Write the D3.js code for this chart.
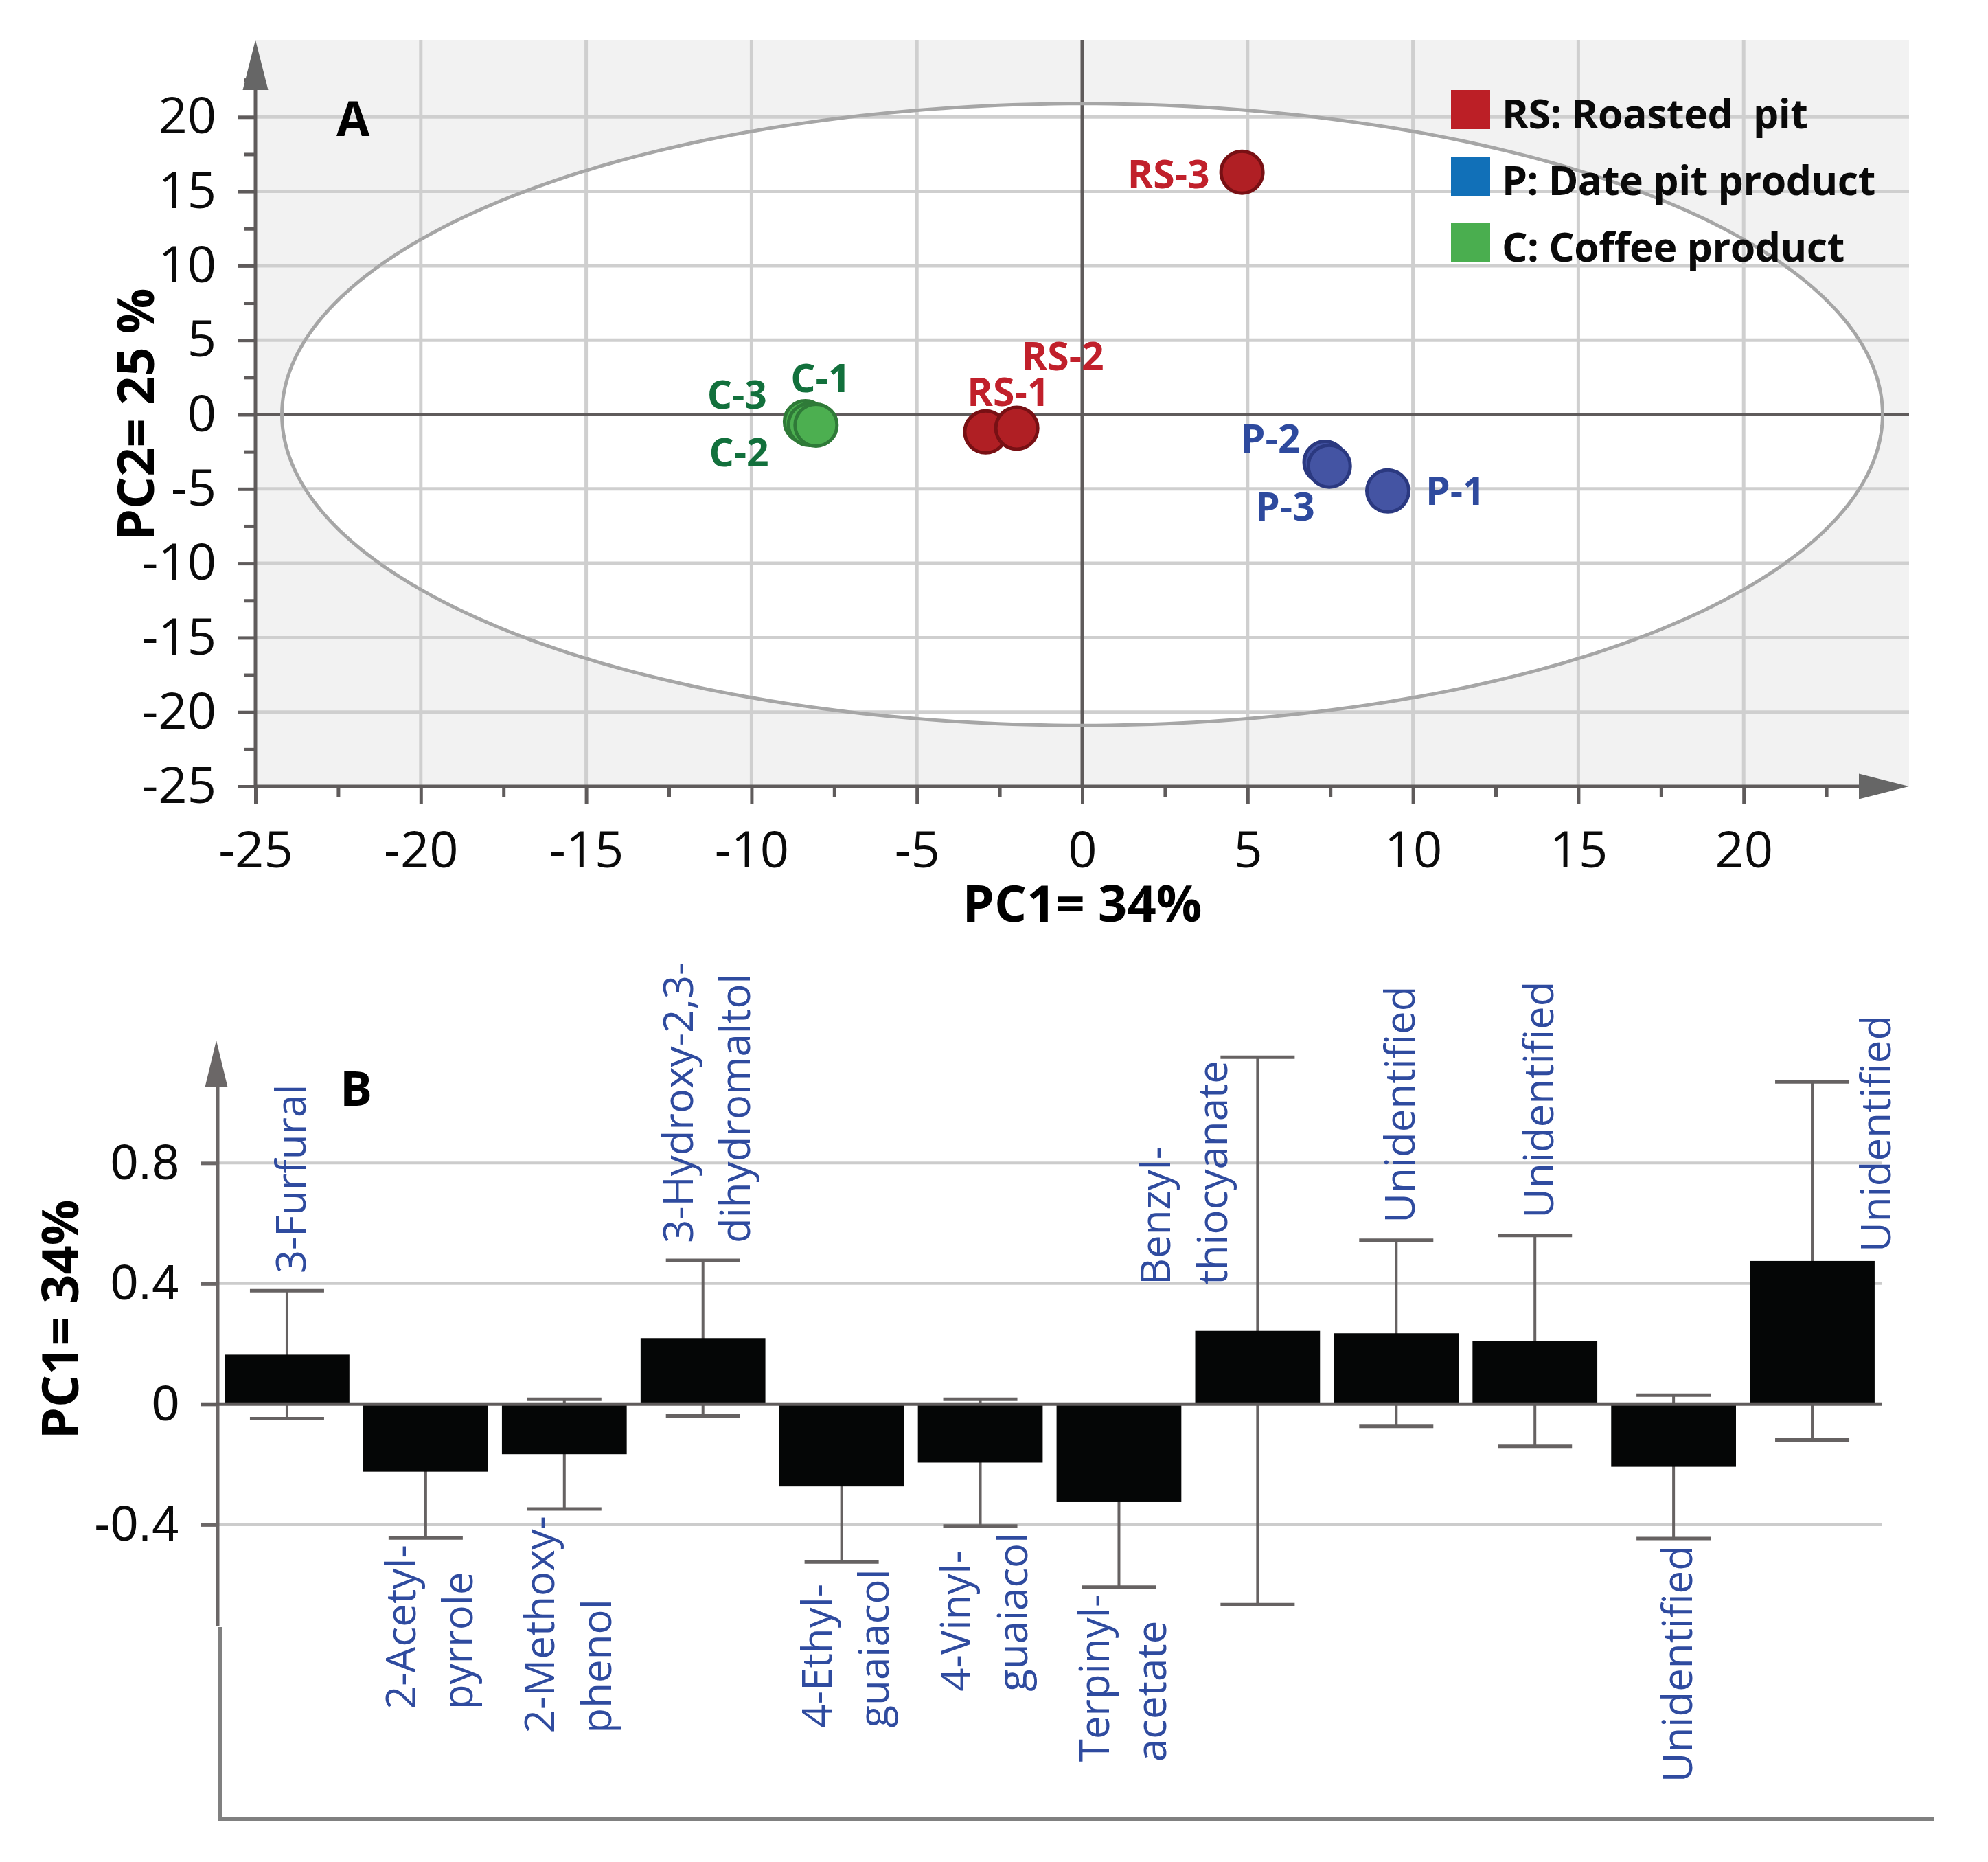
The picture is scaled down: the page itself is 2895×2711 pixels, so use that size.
<!DOCTYPE html>
<html>
<head>
<meta charset="utf-8">
<script src="https://cdn.jsdelivr.net/npm/d3@7"></script>
<style>
  body { margin: 0; background: #fff; }
  svg { display: block; }
  text { font-family: "Open Sans", "Noto Sans", sans-serif; }
</style>
</head>
<body>
<svg id="chart" width="2895" height="2711" viewBox="0 0 2895 2711"></svg>
<script>
// ---- panel A: PCA score plot ----
const sampleNames = ["C-3", "C-2", "C-1", "RS-1", "RS-2", "RS-3", "P-2", "P-3", "P-1"];
const sampleGroups = ["C", "C", "C", "RS", "RS", "RS", "P", "P", "P"];
const pc1Scores = [-8.37, -8.25, -8.05, -2.92, -1.98, 4.83, 7.34, 7.47, 9.24];
const pc2Scores = [-0.48, -0.67, -0.71, -1.17, -0.92, 16.29, -3.21, -3.47, -5.14];
const ellipseRadii = [24.2, 20.9]; // Hotelling T2 ellipse, PC units

const legendGroups = ["RS", "P", "C"];
const legendLabels = ["RS: Roasted  pit", "P: Date pit product", "C: Coffee product"];

const scoreTicks = [-25, -20, -15, -10, -5, 0, 5, 10, 15, 20];

// ---- panel B: PC1 loadings ----
const compoundLabels = [
  "3-Furfural", "2-Acetyl-|pyrrole", "2-Methoxy-|phenol", "3-Hydroxy-2,3-|dihydromaltol",
  "4-Ethyl-|guaiacol", "4-Vinyl-|guaiacol", "Terpinyl-|acetate", "Benzyl-|thiocyanate",
  "Unidentified", "Unidentified", "Unidentified", "Unidentified"
];
const pc1Loadings = [0.164, -0.224, -0.166, 0.219, -0.273, -0.194, -0.325, 0.243, 0.235, 0.210, -0.208, 0.475];
const loadingErrors = [0.212, 0.220, 0.182, 0.258, 0.251, 0.210, 0.282, 0.908, 0.309, 0.350, 0.238, 0.594];
const loadingTicks = [-0.8, -0.4, 0, 0.4, 0.8];

// colours
const pointFill = { RS: "#b01f24", P: "#4454a3", C: "#4caf50" };
const pointStroke = { RS: "#781014", P: "#2b3980", C: "#2f7a38" };
const labelColor = { RS: "#c1202b", P: "#2e4a9e", C: "#12703c" };
const legendColor = { RS: "#bc1f26", P: "#1170b8", C: "#4aae4f" };
const axisColor = "#5f5b5b";
const gridColor = "#cfcfcf";
const hyphen = (d) => String(d).replace("\u2212", "-");

const svg = d3.select("#chart");

// ===================== PANEL A =====================
const xA = d3.scaleLinear().domain([-25, 25]).range([372, 2780]);
const yA = d3.scaleLinear().domain([-25, 25]).range([1145, 62]);
const topA = 58;
const gA = svg.append("g").attr("class", "panel-a");

gA.append("rect")
  .attr("x", xA(-25))
  .attr("y", topA)
  .attr("width", xA(25) - xA(-25))
  .attr("height", yA(-25) - topA)
  .attr("fill", "#f2f2f2");

const ellipseLine = d3.line()
  .x((d) => xA(d[0]))
  .y((d) => yA(d[1]))
  .curve(d3.curveLinearClosed);
const ellipsePts = d3.range(0, 360, 1).map((a) => {
  const t = (a * Math.PI) / 180;
  return [ellipseRadii[0] * Math.cos(t), ellipseRadii[1] * Math.sin(t)];
});
gA.append("path").attr("d", ellipseLine(ellipsePts)).attr("fill", "#fff");

const gridVals = scoreTicks.filter((d) => d !== 0 && d !== -25);
gA.append("g")
  .selectAll("line")
  .data(gridVals)
  .join("line")
  .attr("x1", (d) => xA(d))
  .attr("x2", (d) => xA(d))
  .attr("y1", topA)
  .attr("y2", yA(-25))
  .attr("stroke", gridColor)
  .attr("stroke-width", 5);
gA.append("g")
  .selectAll("line")
  .data(gridVals)
  .join("line")
  .attr("x1", xA(-25))
  .attr("x2", xA(25))
  .attr("y1", (d) => yA(d))
  .attr("y2", (d) => yA(d))
  .attr("stroke", gridColor)
  .attr("stroke-width", 5);

gA.append("line")
  .attr("x1", xA(0)).attr("x2", xA(0))
  .attr("y1", topA).attr("y2", yA(-25))
  .attr("stroke", axisColor).attr("stroke-width", 5);
gA.append("line")
  .attr("x1", xA(-25)).attr("x2", xA(25))
  .attr("y1", yA(0)).attr("y2", yA(0))
  .attr("stroke", axisColor).attr("stroke-width", 5);

gA.append("path")
  .attr("d", ellipseLine(ellipsePts))
  .attr("fill", "none")
  .attr("stroke", "#a6a6a6")
  .attr("stroke-width", 5);

function styleAxis(g, size, family) {
  g.attr("font-size", null).attr("font-family", null);
  g.select(".domain").remove();
  g.selectAll("line").attr("stroke", axisColor).attr("stroke-width", 5);
  g.selectAll("text")
    .attr("font-size", size)
    .attr("fill", "#0a0a0a")
    .style("font-family", family);
}

const minorA = d3.range(-22.5, 23, 5);
gA.append("g")
  .attr("transform", `translate(0,${yA(-25)})`)
  .call(d3.axisBottom(xA).tickValues(scoreTicks).tickSize(25).tickPadding(40).tickFormat(hyphen))
  .call((g) => styleAxis(g, 74, '"Open Sans", sans-serif'));
gA.append("g")
  .attr("transform", `translate(0,${yA(-25)})`)
  .call(d3.axisBottom(xA).tickValues(minorA).tickSize(16).tickFormat(""))
  .call((g) => styleAxis(g, 74, "sans-serif"));
gA.append("g")
  .attr("transform", `translate(${xA(-25)},0)`)
  .call(d3.axisLeft(yA).tickValues(scoreTicks).tickSize(25).tickPadding(32).tickFormat(hyphen))
  .call((g) => styleAxis(g, 74, '"Open Sans", sans-serif'));
gA.append("g")
  .attr("transform", `translate(${xA(-25)},0)`)
  .call(d3.axisLeft(yA).tickValues(minorA).tickSize(16).tickFormat(""))
  .call((g) => styleAxis(g, 74, "sans-serif"));

// axis lines with arrow heads
const arrowLen = 73, arrowHalf = 18.5;
gA.append("line")
  .attr("x1", xA(-25)).attr("x2", xA(-25))
  .attr("y1", yA(-25) + 2).attr("y2", topA + arrowLen - 2)
  .attr("stroke", axisColor).attr("stroke-width", 5);
gA.append("path")
  .attr("d", `M${xA(-25)},${topA}L${xA(-25) - arrowHalf},${topA + arrowLen}L${xA(-25) + arrowHalf},${topA + arrowLen}Z`)
  .attr("fill", "#666");
gA.append("line")
  .attr("x1", xA(-25) - 2).attr("x2", xA(25) - arrowLen + 2)
  .attr("y1", yA(-25)).attr("y2", yA(-25))
  .attr("stroke", axisColor).attr("stroke-width", 5);
gA.append("path")
  .attr("d", `M${xA(25)},${yA(-25)}L${xA(25) - arrowLen},${yA(-25) - arrowHalf}L${xA(25) - arrowLen},${yA(-25) + arrowHalf}Z`)
  .attr("fill", "#666");

// titles
gA.append("text")
  .attr("x", xA(0)).attr("y", 1342)
  .attr("text-anchor", "middle")
  .attr("font-size", 74).attr("font-weight", 700)
  .text("PC1= 34%");
gA.append("text")
  .attr("transform", `translate(224,${yA(0)}) rotate(-90)`)
  .attr("text-anchor", "middle")
  .attr("font-size", 74).attr("font-weight", 700)
  .text("PC2= 25 %");
gA.append("text")
  .attr("x", 490).attr("y", 198)
  .attr("font-size", 70).attr("font-weight", 700)
  .text("A");

// points (drawn in order so later samples sit on top)
const pointLabelPos = {
  "C-3": [-56, -19, "end"], "C-2": [-59, 61, "end"], "C-1": [-37, -48, "start"],
  "RS-1": [-27, -38, "start"], "RS-2": [7, -84, "start"], "RS-3": [-47, 23, "end"],
  "P-2": [-36, -14, "end"], "P-3": [-21, 79, "end"], "P-1": [55, 20, "start"]
};
const idx = d3.range(sampleNames.length);
gA.append("g")
  .selectAll("circle")
  .data(idx)
  .join("circle")
  .attr("cx", (i) => xA(pc1Scores[i]))
  .attr("cy", (i) => yA(pc2Scores[i]))
  .attr("r", 30.5)
  .attr("fill", (i) => pointFill[sampleGroups[i]])
  .attr("stroke", (i) => pointStroke[sampleGroups[i]])
  .attr("stroke-width", 5);
gA.append("g")
  .selectAll("text")
  .data(idx)
  .join("text")
  .attr("x", (i) => xA(pc1Scores[i]) + pointLabelPos[sampleNames[i]][0])
  .attr("y", (i) => yA(pc2Scores[i]) + pointLabelPos[sampleNames[i]][1])
  .attr("text-anchor", (i) => pointLabelPos[sampleNames[i]][2])
  .attr("font-size", 57)
  .attr("font-weight", 700)
  .attr("fill", (i) => labelColor[sampleGroups[i]])
  .text((i) => sampleNames[i]);

// legend
const legend = gA.append("g")
  .selectAll("g")
  .data(legendGroups)
  .join("g")
  .attr("transform", (d, i) => `translate(2113,${131 + i * 97})`);
legend.append("rect")
  .attr("width", 57).attr("height", 57)
  .attr("fill", (d) => legendColor[d]);
legend.append("text")
  .attr("x", 74).attr("y", 56)
  .attr("font-size", 59).attr("font-weight", 700)
  .attr("letter-spacing", -0.5)
  .attr("fill", "#0a0a0a")
  .style("white-space", "pre")
  .text((d, i) => legendLabels[i]);

// ===================== PANEL B =====================
const xB = d3.scaleBand()
  .domain(d3.range(compoundLabels.length))
  .range([317, 2740])
  .paddingInner(0.1)
  .paddingOuter(0.05);
const yB = d3.scaleLinear().domain([-0.8, 1.2]).range([2395.4, 1517.8]);
const gB = svg.append("g").attr("class", "panel-b");
const clipBottom = 2367;

svg.append("defs").append("clipPath").attr("id", "clip-b")
  .append("rect").attr("x", 0).attr("y", 0).attr("width", 2895).attr("height", clipBottom);

gB.append("g")
  .selectAll("line")
  .data(loadingTicks.filter((d) => d !== 0 && d > -0.8))
  .join("line")
  .attr("x1", xB.range()[0]).attr("x2", xB.range()[1])
  .attr("y1", (d) => yB(d)).attr("y2", (d) => yB(d))
  .attr("stroke", "#cccccc").attr("stroke-width", 4);

const gAxisB = gB.append("g").attr("clip-path", "url(#clip-b)");
gAxisB.append("g")
  .attr("transform", `translate(${xB.range()[0]},0)`)
  .call(d3.axisLeft(yB).tickValues(loadingTicks).tickSize(24).tickPadding(32).tickFormat((d) => hyphen(d)))
  .call((g) => styleAxis(g, 72, '"Liberation Sans", Arial, sans-serif'))
  .call((g) => g.selectAll("line").attr("stroke", "#6b6767"));
const arrowTopB = yB(1.2) - 3, arrowBaseB = arrowTopB + 68;
gAxisB.append("line")
  .attr("x1", xB.range()[0]).attr("x2", xB.range()[0])
  .attr("y1", yB(-0.8)).attr("y2", arrowBaseB - 2)
  .attr("stroke", "#6b6767").attr("stroke-width", 5);
gB.append("path")
  .attr("d", `M${xB.range()[0] - 2},${arrowTopB}L${xB.range()[0] - 18.5},${arrowBaseB}L${xB.range()[0] + 14.5},${arrowBaseB}Z`)
  .attr("fill", "#6b6767");

// error bars behind the bars
const capW = 108;
const cx = (i) => xB(i) + xB.bandwidth() / 2;
const gErr = gB.append("g").attr("stroke", "#666262");
gErr.selectAll(".whisker")
  .data(d3.range(pc1Loadings.length))
  .join("line")
  .attr("class", "whisker")
  .attr("x1", cx).attr("x2", cx)
  .attr("y1", (i) => yB(pc1Loadings[i] - loadingErrors[i]))
  .attr("y2", (i) => yB(pc1Loadings[i] + loadingErrors[i]))
  .attr("stroke-width", 4);
gErr.selectAll(".cap")
  .data(d3.range(pc1Loadings.length).flatMap((i) => [[i, -1], [i, 1]]))
  .join("line")
  .attr("class", "cap")
  .attr("x1", (d) => cx(d[0]) - capW / 2)
  .attr("x2", (d) => cx(d[0]) + capW / 2)
  .attr("y1", (d) => yB(pc1Loadings[d[0]] + d[1] * loadingErrors[d[0]]))
  .attr("y2", (d) => yB(pc1Loadings[d[0]] + d[1] * loadingErrors[d[0]]))
  .attr("stroke-width", 5);

gB.append("g")
  .selectAll("rect")
  .data(d3.range(pc1Loadings.length))
  .join("rect")
  .attr("x", (i) => xB(i))
  .attr("width", xB.bandwidth())
  .attr("y", (i) => Math.min(yB(0), yB(pc1Loadings[i])))
  .attr("height", (i) => Math.abs(yB(pc1Loadings[i]) - yB(0)))
  .attr("fill", "#050606");

gB.append("line")
  .attr("x1", xB.range()[0] - 24).attr("x2", xB.range()[1])
  .attr("y1", yB(0)).attr("y2", yB(0))
  .attr("stroke", "#605c5c").attr("stroke-width", 5);

// compound labels, rotated, set beside the error bars
const labelSize = 60, lineGap = 83;
const besideWhisker = { 7: [-107, -67], 11: [92, -13] };
const gLab = gB.append("g").attr("fill", "#2f4b9f");
d3.range(compoundLabels.length).forEach((i) => {
  const lines = compoundLabels[i].split("|");
  const g = gLab.append("g");
  const texts = lines.map((line, k) =>
    g.append("text")
      .attr("x", 0)
      .attr("y", (k - (lines.length - 1) / 2) * lineGap + 0.36 * labelSize)
      .attr("font-size", labelSize)
      .text(line)
  );
  const len = d3.max(texts, (t) => t.node().getComputedTextLength());
  const v = pc1Loadings[i], e = loadingErrors[i];
  let px = cx(i) + 5, py;
  if (besideWhisker[i]) {
    px = cx(i) + besideWhisker[i][0];
    py = yB(v) + besideWhisker[i][1];
  } else if (v >= 0) {
    py = yB(v + e) - 25;
  } else {
    py = yB(v - e) + 10 + len;
  }
  g.attr("transform", `translate(${px},${py}) rotate(-90)`);
});

gB.append("text")
  .attr("transform", "translate(114,1921) rotate(-90)")
  .attr("text-anchor", "middle")
  .attr("font-size", 74).attr("font-weight", 700)
  .text("PC1= 34%");
gB.append("text")
  .attr("x", 495).attr("y", 1610)
  .attr("font-size", 70).attr("font-weight", 700)
  .text("B");

// lower frame
gB.append("path")
  .attr("d", `M${xB.range()[0] + 3},${clipBottom + 2}V2649H2817`)
  .attr("fill", "none")
  .attr("stroke", "#808080")
  .attr("stroke-width", 6);
</script>
</body>
</html>
